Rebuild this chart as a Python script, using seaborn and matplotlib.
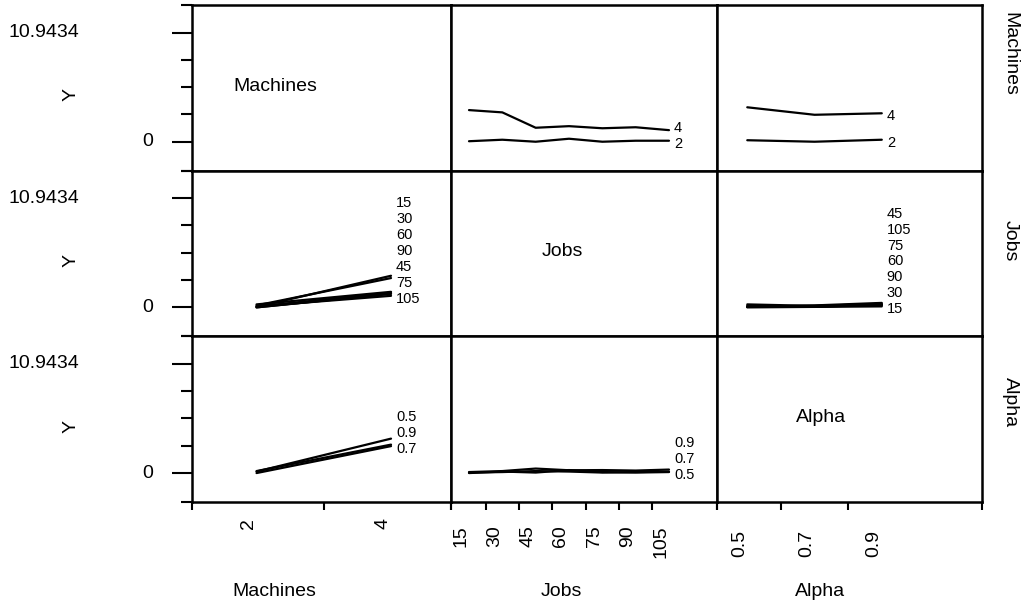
import numpy as np
import pandas as pd
import seaborn as sns
import matplotlib.pyplot as plt
from matplotlib.transforms import ScaledTranslation, blended_transform_factory

# factor levels
machines = ["2", "4"]
jobs = ["15", "30", "45", "60", "75", "90", "105"]
alpha = ["0.5", "0.7", "0.9"]
y_max = 10.9434

# mean Y, machines x jobs
mj_m2 = [0.05, 0.20, 0.00, 0.30, 0.00, 0.10, 0.10]
mj_m4 = [3.17, 2.94, 1.40, 1.56, 1.35, 1.45, 1.16]
# mean Y, machines x alpha
ma_m2 = [0.15, 0.00, 0.20]
ma_m4 = [3.45, 2.70, 2.85]
# mean Y, jobs x alpha (one list per alpha level)
ja_a05 = [0.00, 0.15, 0.05, 0.30, 0.10, 0.05, 0.10]
ja_a07 = [0.05, 0.10, 0.20, 0.15, 0.05, 0.10, 0.15]
ja_a09 = [0.10, 0.20, 0.45, 0.28, 0.30, 0.25, 0.35]

factors = ["Machines", "Jobs", "Alpha"]
levels = {"Machines": machines, "Jobs": jobs, "Alpha": alpha}

rows = []
for m, vals in zip(machines, [mj_m2, mj_m4]):
    for j, v in zip(jobs, vals):
        rows.append({"Machines": m, "Jobs": j, "Y": v})
mj = pd.DataFrame(rows)
rows = []
for m, vals in zip(machines, [ma_m2, ma_m4]):
    for a, v in zip(alpha, vals):
        rows.append({"Machines": m, "Alpha": a, "Y": v})
ma = pd.DataFrame(rows)
rows = []
for a, vals in zip(alpha, [ja_a05, ja_a07, ja_a09]):
    for j, v in zip(jobs, vals):
        rows.append({"Jobs": j, "Alpha": a, "Y": v})
ja = pd.DataFrame(rows)
tables = [mj, ma, ja]

sns.set_style("white")
plt.rcParams["font.family"] = ["Liberation Sans", "DejaVu Sans"]
plt.rcParams["text.color"] = "black"
plt.rcParams["xtick.color"] = "black"
plt.rcParams["ytick.color"] = "black"

xlims = {"Machines": (-0.48, 1.446), "Jobs": (-0.54, 7.44), "Alpha": (-0.45, 3.49)}
ylims = (-2.9, 13.7)
tick_pad = {"Machines": 11.5, "Jobs": 17, "Alpha": 20}
diag_x = {"Machines": 0.32, "Jobs": 0.417, "Alpha": 0.392}

fig, axes = plt.subplots(
    3, 3, figsize=(10.33, 6.06), dpi=100,
    gridspec_kw=dict(width_ratios=[259, 266, 265], wspace=0, hspace=0,
                     left=192 / 1033, right=982 / 1033,
                     top=1 - 5 / 606, bottom=1 - 502 / 606))

for r, trace in enumerate(factors):
    for c, xf in enumerate(factors):
        ax = axes[r, c]
        ax.set_xlim(*xlims[xf])
        ax.set_ylim(*ylims)
        for sp in ax.spines.values():
            sp.set_linewidth(1.8)
            sp.set_color("black")
        ax.tick_params(which="both", left=False, bottom=False,
                       labelleft=False, labelbottom=False)

        if r == c:
            ax.text(diag_x[xf], 0.51, xf, transform=ax.transAxes,
                    ha="center", va="center", fontsize=14)
        else:
            tab = next(t for t in tables if trace in t.columns and xf in t.columns).copy()
            tab["pos"] = tab[xf].map({lv: i for i, lv in enumerate(levels[xf])})
            pal = {lv: "black" for lv in levels[trace]}
            sns.lineplot(data=tab, x="pos", y="Y", hue=trace, palette=pal,
                         estimator=None, sort=True, legend=False,
                         linewidth=1.6, ax=ax)
            # level labels stacked at the right end of the lines
            last = len(levels[xf]) - 1
            ends = tab[tab["pos"] == last].sort_values("Y")
            off = ax.transData + ScaledTranslation(5 / 100, 0, fig.dpi_scale_trans)
            prev = None
            for lv, v in zip(ends[trace], ends["Y"]):
                ypos = v - 0.3 if prev is None else max(v - 0.3, prev + 1.6)
                prev = ypos
                ax.text(last, ypos, lv, transform=off, ha="left", va="center",
                        fontsize=10.5)
        ax.set_xlabel("")
        ax.set_ylabel("")

        # left axis
        if c == 0:
            ax.set_yticks([0, y_max], labels=["", ""])
            ax.set_yticks([y_max * k / 4 for k in (1, 2, 3)] + list(ylims), minor=True)
            ax.tick_params(axis="y", which="both", left=True, direction="out")
            ax.tick_params(axis="y", which="major", length=14.4, width=1.5)
            ax.tick_params(axis="y", which="minor", length=7.9, width=1.5)
            bt = blended_transform_factory(ax.transAxes, ax.transData)
            ax.text(-0.1506, 0, "0", transform=bt, ha="right", va="center", fontsize=14)
            ax.text(-0.436, y_max, "10.9434", transform=bt, ha="right", va="center",
                    fontsize=14)
            ax.text(-0.436, 4.7, "Y", transform=bt, ha="right", va="center",
                    rotation=90, fontsize=14)
        # bottom axis
        if r == 2:
            n = len(levels[xf])
            ax.set_xticks(range(n), labels=levels[xf])
            ax.set_xticks([k + 0.5 for k in range(n - 1)] + list(xlims[xf]), minor=True)
            ax.tick_params(axis="x", which="both", bottom=True, direction="out")
            ax.tick_params(axis="x", which="major", length=0, labelbottom=True,
                           labelrotation=90, labelsize=14, pad=tick_pad[xf])
            ax.tick_params(axis="x", which="minor", length=5.8, width=1.5)
            shift = ScaledTranslation(-8 / 100, 0, fig.dpi_scale_trans)
            for lab in ax.get_xticklabels():
                lab.set_transform(lab.get_transform() + shift)
        # row label on the right
        if c == 2:
            ax.text(1.106, 0.452, trace, transform=ax.transAxes, rotation=-90,
                    ha="center", va="bottom", fontsize=14)

for name, fx in zip(factors, [274, 561, 820]):
    fig.text(fx / 1033, 1 - 592 / 606, name, ha="center", va="center", fontsize=14)

fig.savefig("out.png", dpi=100)
